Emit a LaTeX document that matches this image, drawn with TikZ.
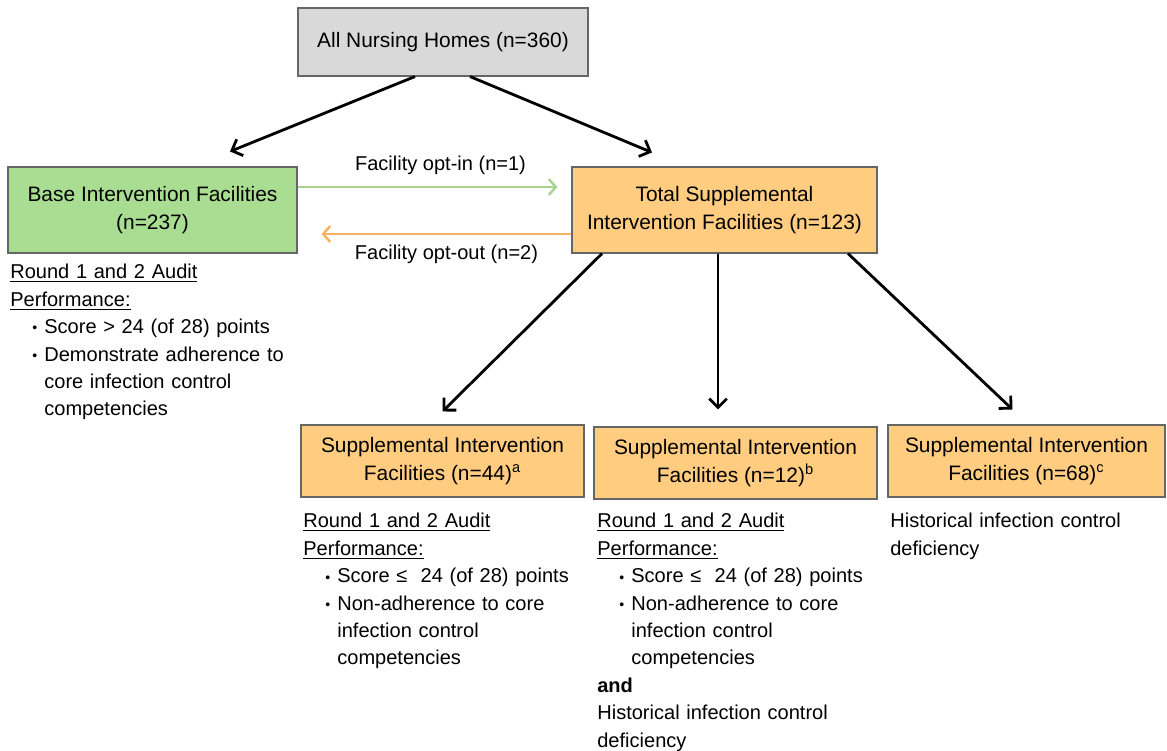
\documentclass[tikz,border=0pt]{standalone}
\usepackage{fontspec}
\setmainfont{Liberation Sans}
\definecolor{homegray}{RGB}{217, 217, 217}
\definecolor{basegreen}{RGB}{169, 221, 146}
\definecolor{supporange}{RGB}{255, 204, 128}
\definecolor{optgreen}{RGB}{169, 210, 145}
\definecolor{optorange}{RGB}{244, 178, 98}
\usetikzlibrary{arrows.meta, positioning}
\newcommand{\bitem}{\hspace*{0.44cm}\makebox[0.24cm][l]{\raisebox{0.4pt}{\fontsize{8}{8}\selectfont\textbullet}}}
\newcommand{\bcont}{\hspace*{0.68cm}}
\newcommand{\auditperf}{\underline{Round 1 and 2 Audit}\\ \underline{Performance:}}

\begin{document}
\begin{tikzpicture}[
  fac/.style={draw=black!60, line width=0.6pt, align=center, inner sep=0pt, font=\fontsize{11.9}{15.9}\selectfont},
  crit/.style={anchor=north west, text width=6.2cm, align=left, inner sep=0pt, font=\fontsize{11.4}{15.6}\selectfont},
  flow/.style={-{Straight Barb[length=5pt, width=10pt]}, line width=1.6pt},
  opt/.style={-{Straight Barb[length=4pt, width=9pt]}, line width=1.4pt}
]
  \useasboundingbox (0,0) rectangle (23.34,-15);
  \node[fac, fill=homegray, minimum width=5.8cm, minimum height=1.36cm] (all) at (8.86,-0.84) {All Nursing Homes (n=360)};
  \node[fac, fill=basegreen, minimum width=5.78cm, minimum height=1.72cm] (base) at (3.05,-4.2) {Base Intervention Facilities\\(n=237)};
  \node[fac, fill=supporange, minimum width=6.1cm, minimum height=1.72cm] (total) at (14.49,-4.2) {Total Supplemental\\Intervention Facilities (n=123)};
  \node[fac, fill=supporange, minimum width=5.66cm, minimum height=1.44cm] (supA) at (8.85,-9.22) {Supplemental Intervention\\Facilities (n=44)\textsuperscript{a}};
  \node[fac, fill=supporange, minimum width=5.66cm, minimum height=1.44cm] (supB) at (14.71,-9.26) {Supplemental Intervention\\Facilities (n=12)\textsuperscript{b}};
  \node[fac, fill=supporange, minimum width=5.54cm, minimum height=1.44cm] (supC) at (20.53,-9.22) {Supplemental Intervention\\Facilities (n=68)\textsuperscript{c}};

  \node[crit] (baseCrit) at (0.2,-5.28) {\auditperf\\
    \bitem Score > 24 (of 28) points\\
    \bitem Demonstrate adherence to\\
    \bcont core infection control\\
    \bcont competencies};
  \node[crit] (supACrit) at (6.06,-10.26) {\auditperf\\
    \bitem Score ≤\ \ 24 (of 28) points\\
    \bitem Non-adherence to core\\
    \bcont infection control\\
    \bcont competencies};
  \node[crit] (supBCrit) at (11.94,-10.26) {\auditperf\\
    \bitem Score ≤\ \ 24 (of 28) points\\
    \bitem Non-adherence to core\\
    \bcont infection control\\
    \bcont competencies\\
    \textbf{and}\\
    Historical infection control\\
    deficiency};
  \node[crit] (supCCrit) at (17.8,-10.26) {Historical infection control\\deficiency};

  \draw[flow] ([xshift=-0.56cm]all.south) -- ([xshift=1.55cm, yshift=0.3cm]base.north);
  \draw[flow] ([xshift=0.54cm]all.south) -- ([xshift=-1.45cm, yshift=0.28cm]total.north);
  \draw[opt, optgreen] ([yshift=0.46cm]base.east) -- node[above=3pt, pos=0.55, text=black, font=\fontsize{11.4}{15.6}\selectfont] {Facility opt-in (n=1)} ([xshift=-0.28cm, yshift=0.46cm]total.west);
  \draw[opt, optorange] ([yshift=-0.48cm]total.west) -- node[below=2pt, text=black, font=\fontsize{11.4}{15.6}\selectfont] {Facility opt-out (n=2)} ([xshift=0.48cm, yshift=-0.48cm]base.east);
  \draw[flow] ([xshift=-2.45cm]total.south) -- ([yshift=0.26cm]supA.north);
  \draw[flow] ([xshift=-0.13cm]total.south) -- ([xshift=-0.35cm, yshift=0.34cm]supB.north);
  \draw[flow] ([xshift=2.47cm]total.south) -- ([xshift=-0.28cm, yshift=0.3cm]supC.north);
\end{tikzpicture}
\end{document}
